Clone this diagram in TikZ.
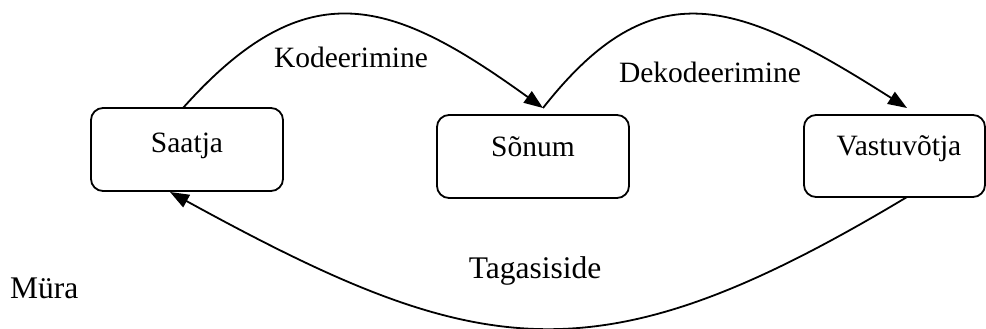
\documentclass[tikz,border=0pt]{standalone}
\usepackage{fontspec}
\setmainfont{Liberation Serif}
\usetikzlibrary{arrows.meta,calc}
\begin{document}
\begin{tikzpicture}[x=1pt,y=-1pt,
  box/.style 2 args={draw,line width=1.8pt,rounded corners=12pt,
    inner sep=0pt,outer sep=0pt,minimum width=#1,minimum height=#2},
  lbl/.style={font=\fontsize{29.5}{34}\selectfont,inner sep=0pt,anchor=base},
  biglbl/.style={font=\fontsize{31.5}{36}\selectfont,inner sep=0pt,anchor=base},
  flow/.style={line width=1.8pt},
  tip/.style={-{Triangle[length=19pt,width=14pt]}}]
\useasboundingbox (0,0) rectangle (986,329);

% the three participants
\node[box={192pt}{83pt}] (saatja) at (187,149.5) {};
\node[box={192pt}{83pt}] (sonum) at (533,156.5) {};
\node[box={181pt}{82pt}] (vastu) at (894.5,156) {};
\node[lbl] (saatjaT) at (187,152) {Saatja};
\node[lbl] (sonumT) at (533,157) {Sõnum};
\node[lbl] (vastuT) at (899,155) {Vastuvõtja};

% ends of the connecting arcs
\coordinate (kodA) at ($(saatja.north)+(-4,0)$);
\coordinate (kodB) at ($(sonum.north)+(10,-7)$);
\coordinate (dekB) at ($(vastu.north)+(12.5,-7)$);
\coordinate (tagA) at ($(vastu.south)+(12.5,0)$);
\coordinate (tagB) at ($(saatja.south)+(-17,1)$);

% encoding and decoding arcs
\draw[flow,tip] (kodA) .. controls +(125,-140) and +(-150,-108) .. (kodB);
\draw[flow,tip] (kodB) .. controls +(110,-140) and +(-170,-108) .. (dekB);
% feedback arc
\draw[flow,tip] (tagA) .. controls +(-310,186) and +(310,170) .. (tagB);

% labels
\node[lbl] (kod) at (351,67) {Kodeerimine};
\node[lbl] (dek) at (710,82) {Dekodeerimine};
\node[biglbl] (tag) at (535,278) {Tagasiside};
\node[biglbl,anchor=base west] (myra) at (10,298) {Müra};
\end{tikzpicture}
\end{document}
